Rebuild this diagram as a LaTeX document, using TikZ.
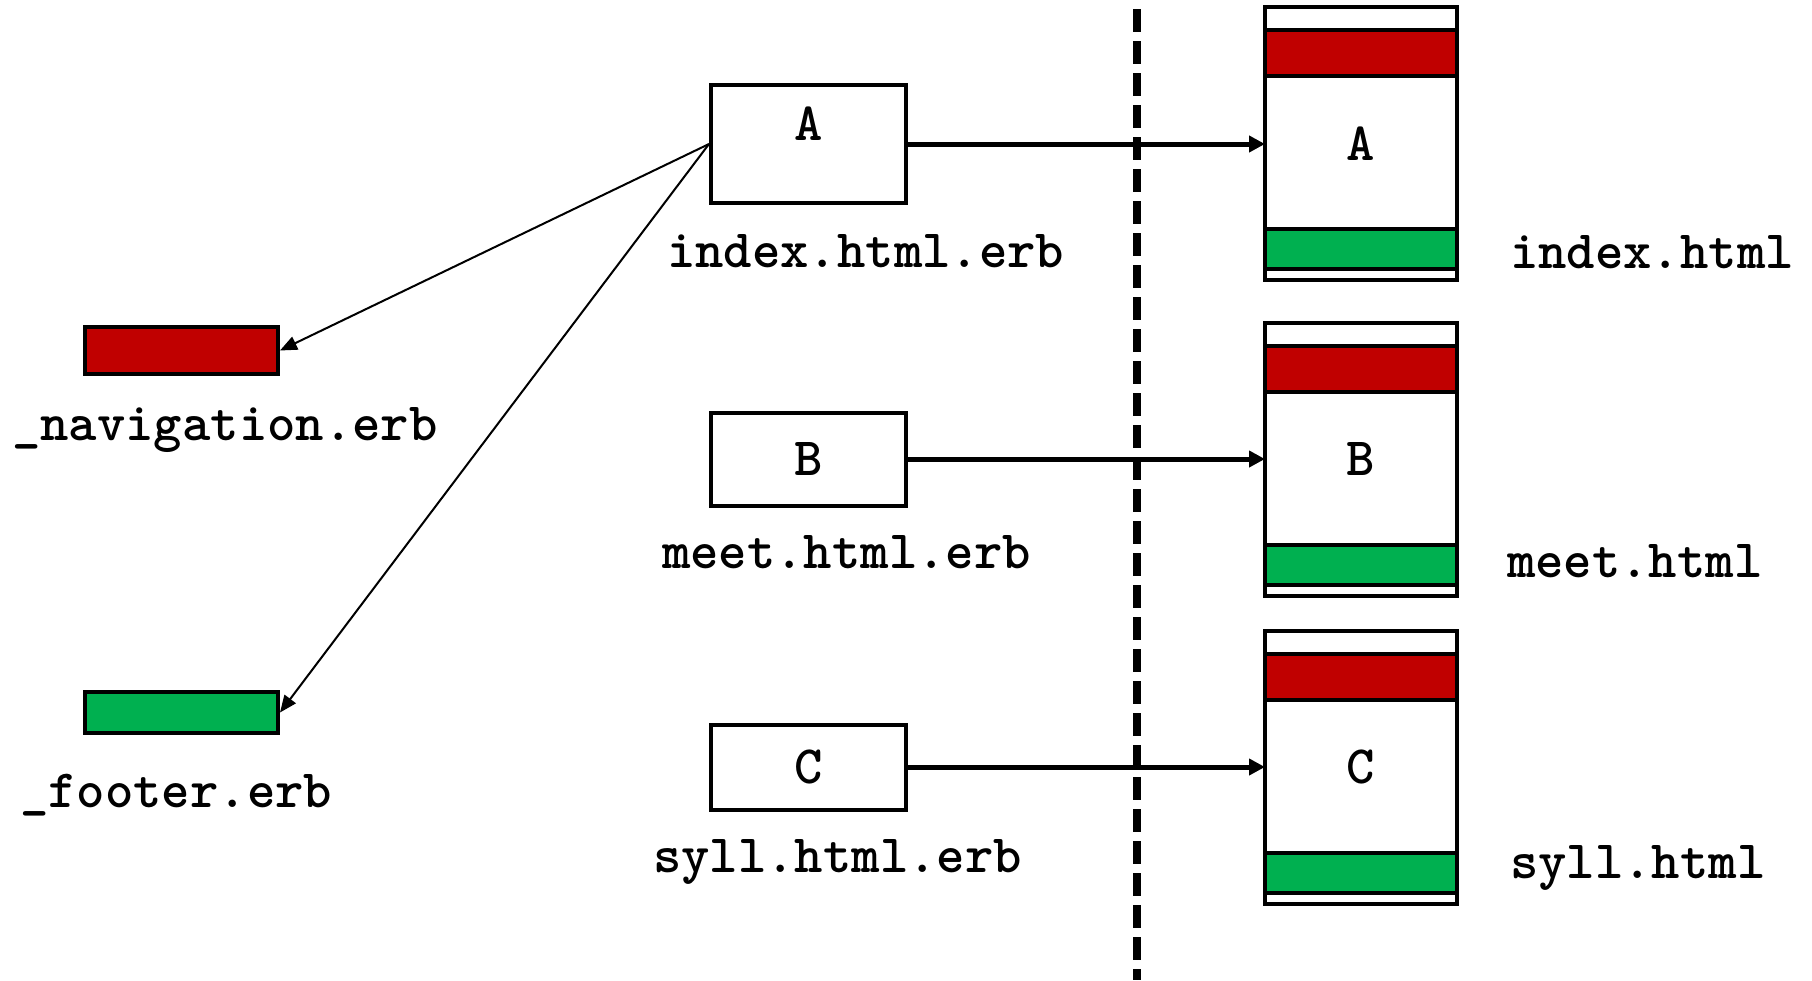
\documentclass[tikz,border=0pt]{standalone}
\usepackage{fontspec}
\usepackage{tikz}
\usetikzlibrary{positioning,arrows.meta}

\definecolor{navred}{HTML}{C00000}
\definecolor{footgreen}{HTML}{00B050}

\tikzset{
    code/.style={font=\ttfamily\bfseries\fontsize{54}{56}\selectfont, inner sep=0pt},
    srcbox/.style={draw, line width=4pt, minimum width=195pt, code},
    partbar/.style={draw, line width=4pt, minimum width=193pt, inner sep=0pt},
    pagestrip/.style={draw, line width=3.5pt, minimum width=192pt, inner sep=0pt, outer sep=0pt, fill=white},
    partial/.style={-{Triangle[length=17pt,width=14pt]}, line width=2pt},
    render/.style={-{Triangle[length=16pt,width=16pt]}, line width=5pt},
    divider/.style={line width=8pt, dash pattern=on 23pt off 9pt},
}

% rendered page: name, x, top y
\newcommand{\webpage}[3]{%
    \node[pagestrip, minimum height=23pt, anchor=north] (#1-top) at (#2,#3) {};
    \node[pagestrip, fill=navred, minimum height=46pt, below=0pt of #1-top] (#1-nav) {};
    \node[pagestrip, minimum height=153pt, below=0pt of #1-nav] (#1-body) {};
    \node[pagestrip, fill=footgreen, minimum height=40pt, below=0pt of #1-body] (#1-foot) {};
    \node[pagestrip, minimum height=11pt, below=0pt of #1-foot] (#1-end) {};
}

\begin{document}
\begin{tikzpicture}[x=1pt,y=-1pt]
    \useasboundingbox (0,0) rectangle (1812,980);

    % templates
    \node[srcbox, minimum height=118pt] (srcA) at (808.5,144) {};
    \node[code] at ([yshift=20pt]srcA.center) {A};
    \node[srcbox, minimum height=93pt] (srcB) at (808.5,459) {B};
    \node[srcbox, minimum height=85pt] (srcC) at (808.5,767) {C};
    \node[code, anchor=base west] (srcA-name) at (667,267) {index.html.erb};
    \node[code, anchor=base west] (srcB-name) at (662,568) {meet.html.erb};
    \node[code, anchor=base west] (srcC-name) at (653,872) {syll.html.erb};

    % partials
    \node[partbar, fill=navred, minimum height=47pt] (nav) at (181.5,350.5) {};
    \node[code, anchor=base west] (nav-name) at (12,440) {\_navigation.erb};
    \node[partbar, fill=footgreen, minimum height=41pt] (foot) at (181.5,712.5) {};
    \node[code, anchor=base west] (foot-name) at (20,807) {\_footer.erb};

    \draw[partial] (srcA.west) -- (nav.east);
    \draw[partial] (srcA.west) -- (foot.east);

    % server / browser split
    \coordinate (div-top) at (1137,9);
    \coordinate (div-bot) at (1137,980);
    \draw[divider] (div-top) -- (div-bot);

    % rendered pages
    \webpage{pgA}{1361}{7}
    \webpage{pgB}{1361}{323}
    \webpage{pgC}{1361}{631}
    \node[code, anchor=base west] (pgA-name) at (1510,268) {index.html};
    \node[code, anchor=base west] (pgB-name) at (1507,577) {meet.html};
    \node[code, anchor=base west] (pgC-name) at (1510,878) {syll.html};

    \foreach \p in {A,B,C} {
        \draw[render] (src\p.east) -- (src\p.east -| pg\p-body.west);
        \node[code] at (src\p.east -| pg\p-body.center) {\p};
    }
\end{tikzpicture}
\end{document}
